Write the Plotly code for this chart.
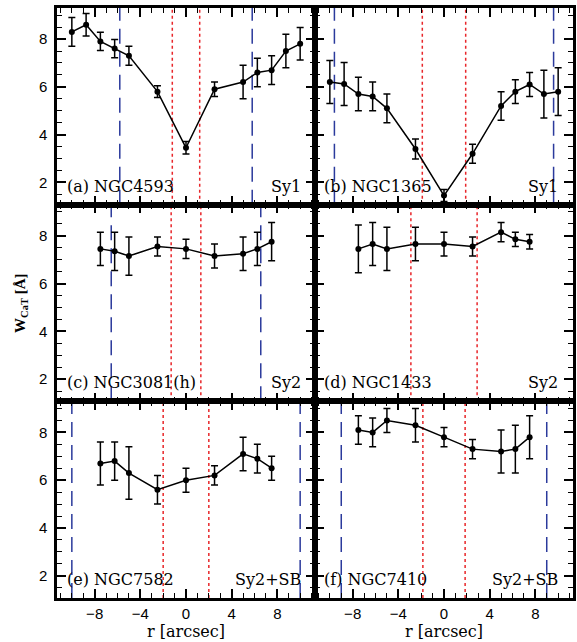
import plotly.graph_objects as go
from plotly.subplots import make_subplots

# Radial positions along the slit [arcsec]
r_full = [-10, -8.75, -7.5, -6.25, -5, -2.5, 0, 2.5, 5, 6.25, 7.5, 8.75, 10]
r_inner = [-7.5, -6.25, -5, -2.5, 0, 2.5, 5, 6.25, 7.5]

# CaT equivalent widths [Angstrom] and their errors
w_ngc4593 = [8.3, 8.6, 7.9, 7.6, 7.3, 5.8, 3.45, 5.9, 6.2, 6.6, 6.7, 7.5, 7.8]
e_ngc4593 = [0.6, 0.47, 0.38, 0.38, 0.4, 0.25, 0.26, 0.3, 0.7, 0.6, 0.6, 0.7, 0.68]

w_ngc1365 = [6.2, 6.12, 5.7, 5.6, 5.1, 3.4, 1.45, 3.2, 5.2, 5.8, 6.1, 5.7, 5.8]
e_ngc1365 = [0.9, 0.9, 0.7, 0.6, 0.6, 0.42, 0.25, 0.4, 0.6, 0.5, 0.5, 1.0, 1.0]

w_ngc3081 = [7.45, 7.35, 7.15, 7.55, 7.45, 7.15, 7.25, 7.45, 7.75]
e_ngc3081 = [0.7, 0.8, 0.8, 0.4, 0.4, 0.5, 0.7, 0.7, 0.8]

w_ngc1433 = [7.45, 7.65, 7.45, 7.65, 7.65, 7.55, 8.15, 7.85, 7.75]
e_ngc1433 = [1.0, 0.9, 0.9, 0.7, 0.5, 0.4, 0.4, 0.3, 0.3]

w_ngc7582 = [6.7, 6.8, 6.3, 5.6, 6.0, 6.2, 7.1, 6.9, 6.5]
e_ngc7582 = [0.9, 0.8, 1.1, 0.6, 0.5, 0.4, 0.7, 0.6, 0.5]

w_ngc7410 = [8.1, 8.0, 8.5, 8.3, 7.8, 7.3, 7.2, 7.3, 7.8]
e_ngc7410 = [0.6, 0.6, 0.5, 0.7, 0.4, 0.4, 0.9, 1.0, 0.9]

# Panel labels, activity classes, and marker radii (red dotted / blue dashed)
panel_names = ["(a) NGC4593", "(b) NGC1365", "(c) NGC3081(h)",
               "(d) NGC1433", "(e) NGC7582", "(f) NGC7410"]
panel_types = ["Sy1", "Sy1", "Sy2", "Sy2", "Sy2+SB", "Sy2+SB"]
red_radius = [1.2, 1.9, 1.3, 2.9, 2.0, 1.85]
blue_radius = [5.8, 9.6, 6.55, None, 10.0, 9.0]

series = [
    (r_full, w_ngc4593, e_ngc4593),
    (r_full, w_ngc1365, e_ngc1365),
    (r_inner, w_ngc3081, e_ngc3081),
    (r_inner, w_ngc1433, e_ngc1433),
    (r_inner, w_ngc7582, e_ngc7582),
    (r_inner, w_ngc7410, e_ngc7410),
]

x_range = [-11.3, 11.3]
y_range = [1.07, 9.3]

fig = make_subplots(rows=3, cols=2, horizontal_spacing=0, vertical_spacing=0)

RED = "#e8262a"
BLUE = "#2b3a9c"

for i, (xs, ys, es) in enumerate(series):
    row, col = i // 2 + 1, i % 2 + 1
    fig.add_trace(
        go.Scatter(
            x=xs, y=ys, mode="lines+markers",
            line=dict(color="black", width=1.5),
            marker=dict(color="black", size=6),
            error_y=dict(type="data", array=es, color="black",
                         thickness=1.5, width=3.5),
            showlegend=False,
        ),
        row=row, col=col,
    )
    idx = "" if i == 0 else str(i + 1)
    xref, yref = "x" + idx, "y" + idx + " domain"
    for v in (-red_radius[i], red_radius[i]):
        fig.add_shape(type="line", xref=xref, yref=yref, x0=v, x1=v, y0=0, y1=1,
                      line=dict(color=RED, width=1.5, dash="dot"), layer="below")
    if blue_radius[i] is not None:
        for v in (-blue_radius[i], blue_radius[i]):
            fig.add_shape(type="line", xref=xref, yref=yref, x0=v, x1=v, y0=0, y1=1,
                          line=dict(color=BLUE, width=1.5, dash="15px,8px"),
                          layer="below")
    left = 0.03 if col == 1 else 0.027
    right = 0.955 if col == 1 else 0.948
    fig.add_annotation(xref="x" + idx + " domain", yref=yref, x=left, y=0.035,
                       xanchor="left", yanchor="bottom", showarrow=False,
                       text=panel_names[i],
                       font=dict(family="DejaVu Serif", size=16, color="black"))
    fig.add_annotation(xref="x" + idx + " domain", yref=yref, x=right, y=0.035,
                       xanchor="right", yanchor="bottom", showarrow=False,
                       text=panel_types[i],
                       font=dict(family="DejaVu Serif", size=16, color="black"))

tick_font = dict(family="Liberation Sans", size=15, color="black")

for i in range(6):
    row, col = i // 2 + 1, i % 2 + 1
    fig.update_xaxes(
        range=x_range, tick0=0, dtick=4, ticks="inside", ticklen=9, tickwidth=1.5,
        tickcolor="black", showline=True, linewidth=2.5, linecolor="black",
        mirror="ticks", showgrid=False, zeroline=False,
        showticklabels=(row == 3), tickfont=tick_font,
        minor=dict(dtick=1, tick0=0, ticks="inside", ticklen=5, tickwidth=1.2,
                   tickcolor="black", showgrid=False),
        row=row, col=col,
    )
    fig.update_yaxes(
        range=y_range, tick0=0, dtick=2, ticks="inside", ticklen=9, tickwidth=1.5,
        tickcolor="black", showline=True, linewidth=2.5, linecolor="black",
        mirror="ticks", showgrid=False, zeroline=False,
        showticklabels=(col == 1), tickfont=tick_font, ticklabelstandoff=4,
        minor=dict(dtick=0.5, tick0=0, ticks="inside", ticklen=5, tickwidth=1.2,
                   tickcolor="black", showgrid=False),
        row=row, col=col,
    )

# Shared axis titles
for xd in (0.25, 0.75):
    fig.add_annotation(xref="paper", yref="paper", x=xd, y=-0.057,
                       xanchor="center", yanchor="middle", showarrow=False,
                       text="r [arcsec]",
                       font=dict(family="DejaVu Serif", size=16, color="black"))

fig.add_annotation(xref="paper", yref="paper", x=-0.07, y=0.5,
                   xanchor="center", yanchor="middle", showarrow=False,
                   textangle=-90,
                   text="<b>W<sub>CaT</sub> [Å]</b>",
                   font=dict(family="Liberation Serif", size=15, color="black"))

fig.update_layout(
    width=577, height=642,
    margin=dict(l=57, r=1, t=8, b=44),
    plot_bgcolor="white", paper_bgcolor="white",
)

fig.write_html("out.html")
